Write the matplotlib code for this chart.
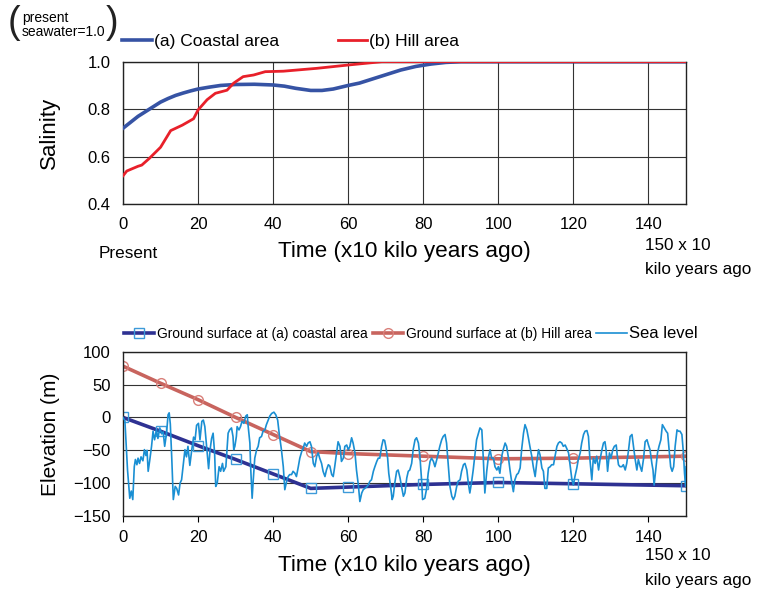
import numpy as np
import matplotlib
matplotlib.use('Agg')
import matplotlib.pyplot as plt

# Salinity (present seawater = 1.0)
sal_coast_t = [0, 2, 4, 6, 8, 10, 12, 14, 16, 18, 20, 23, 26, 30, 35, 40, 43, 46, 50, 53,
               56, 60, 63, 66, 70, 74, 78, 82, 86, 90, 150]
sal_coast = [0.72, 0.745, 0.77, 0.79, 0.81, 0.83, 0.845, 0.858, 0.868, 0.877, 0.885, 0.893,
             0.9, 0.904, 0.905, 0.902, 0.897, 0.888, 0.879, 0.879, 0.885, 0.9, 0.91, 0.925,
             0.945, 0.965, 0.98, 0.99, 0.997, 1.0, 1.0]
sal_hill_t = [0, 1, 4, 5, 7, 10, 12.7, 15.8, 18.8, 20, 22.4, 24.6, 27.7, 29.5, 32, 34.8,
              37.9, 42.7, 51.6, 60, 69, 150]
sal_hill = [0.52, 0.54, 0.56, 0.565, 0.593, 0.64, 0.71, 0.733, 0.76, 0.797, 0.84, 0.867,
            0.88, 0.91, 0.937, 0.944, 0.958, 0.96, 0.972, 0.986, 1.0, 1.0]

# Ground surface elevation (m)
gs_t = [0, 10, 20, 30, 40, 50, 60, 80, 100, 120, 150]
gs_coast = [0, -21, -43, -64, -86, -108, -106, -102, -99, -101, -104]
gs_hill = [78, 52, 27, 0, -26, -52, -55, -59, -63, -62, -59]

# Sea level (m)
sea_t = [0, 0.5, 1.2, 1.8, 2.2, 2.6, 3.0, 3.3, 3.7, 4.0, 4.4, 4.8, 5.3, 5.7, 6.1, 6.4, 6.7,
         7.1, 7.6, 8.0, 8.4, 8.9, 9.3, 9.8, 10.3, 10.7, 11.1, 11.6, 12.0, 12.3, 12.6, 13.0,
         13.4, 13.9, 14.3, 14.8, 15.2, 15.6, 16.1, 16.5, 16.9, 17.3, 17.8, 18.3, 18.8, 19.2,
         19.6, 20.1, 20.5, 21.0, 21.4, 21.8, 22.3, 22.8, 23.2, 23.6, 24.0, 24.4, 24.7, 25.1,
         25.6, 26.0, 26.5, 26.8, 27.4, 27.7, 28.0, 28.4, 28.9, 29.3, 29.5, 29.8, 30.2, 30.4,
         30.9, 31.3, 31.7, 32.2, 32.7, 33.1, 33.3, 33.8, 34.0, 34.4, 34.7, 35.1, 35.6, 36.0,
         36.4, 36.9, 37.3, 37.8, 38.2, 38.7, 39.1, 39.6, 40.2, 40.7, 41.2, 41.6, 42.2, 42.7,
         43.1, 43.6, 44.0, 44.4, 44.9, 45.3, 45.8, 46.2, 46.7, 47.1, 47.6, 48.0, 48.4, 48.9,
         49.3, 49.8, 50.2, 50.7, 51.1, 51.6, 52.0, 52.4, 52.9, 53.3, 53.8, 54.2, 54.7, 55.1,
         55.6, 56.0, 56.4, 56.9, 57.3, 57.8, 58.2, 58.7, 59.1, 59.6, 60.0, 60.4, 60.9, 61.3,
         61.8, 62.2, 62.7, 63.1, 63.6, 64.0, 64.4, 64.9, 65.3, 65.8, 66.2, 66.7, 67.1, 67.6,
         68.0, 68.4, 68.9, 69.3, 69.7, 70.0, 70.5, 70.8, 71.4, 71.7, 72.0, 72.4, 72.9, 73.3,
         73.8, 74.2, 74.7, 75.1, 75.6, 76.0, 76.4, 76.9, 77.3, 77.8, 78.2, 78.7, 79.1, 79.6,
         79.8, 80.4, 80.9, 81.3, 81.8, 82.2, 82.7, 83.1, 83.6, 84.0, 84.4, 84.9, 85.3, 85.8,
         86.2, 86.7, 87.1, 87.6, 88.0, 88.4, 88.9, 89.3, 89.8, 90.2, 90.7, 91.1, 91.6, 92.0,
         92.4, 92.9, 93.3, 93.8, 94.2, 94.7, 95.1, 95.6, 96.0, 96.4, 96.9, 97.3, 97.8, 98.2,
         98.7, 99.1, 99.6, 100.0, 100.4, 100.9, 101.3, 101.8, 102.2, 102.7, 103.1, 103.6,
         104.0, 104.4, 104.9, 105.3, 105.8, 106.2, 106.7, 107.1, 107.6, 108.0, 108.4, 108.9,
         109.3, 109.8, 110.2, 110.7, 111.1, 111.6, 112.0, 112.4, 112.9, 113.3, 113.8, 114.2,
         114.7, 115.1, 115.6, 116.0, 116.4, 116.9, 117.3, 117.8, 118.2, 118.7, 119.1, 119.6,
         120.0, 120.4, 120.9, 121.3, 121.8, 122.2, 122.7, 123.1, 123.6, 124.0, 124.4, 124.9,
         125.3, 125.8, 126.2, 126.7, 127.1, 127.6, 128.0, 128.4, 128.7, 129.1, 129.6, 130.0,
         130.5, 130.9, 131.4, 131.7, 132.0, 132.4, 132.9, 133.3, 133.8, 134.2, 134.7, 135.1,
         135.6, 136.0, 136.4, 136.9, 137.3, 137.8, 138.2, 138.7, 139.1, 139.6, 140.0, 140.4,
         140.9, 141.2, 141.5, 142.0, 142.4, 142.8, 143.3, 143.7, 144.2, 144.7, 145.1, 145.5,
         145.9, 146.3, 146.7, 147.1, 147.6, 148.0, 148.4, 148.9, 149.3, 149.6, 149.9, 150.0]
sea_lv = [0, -5, -80, -123, -112, -125, -75, -64, -72, -62, -70, -60, -66, -49, -58, -50, -82,
          -66, -44, -21, -34, -19, -32, -16, -25, -22, -44, -24, 4, 7, -10, -64,
          -125, -105, -108, -118, -100, -95, -70, -49, -60, -44, -73, -50, -30, -34,
          -12, -9, -34, -6, -4, -14, -46, -78, -49, -32, -24, -54, -105, -100,
          -75, -82, -70, -82, -75, -49, -24, -19, -16, -29, -49, -44, -29, -14,
          -19, -14, -6, -9, 2, 4, -11, -39, -75, -123, -95, -62, -49, -44,
          -31, -29, -21, -19, -11, -4, 2, 6, 8, 4, -4, -24, -49, -75,
          -110, -97, -90, -87, -87, -82, -85, -90, -75, -62, -52, -47, -39, -44,
          -39, -37, -44, -70, -75, -59, -54, -62, -70, -82, -90, -80, -72, -74,
          -87, -90, -75, -54, -37, -44, -67, -62, -44, -42, -49, -45, -31, -39,
          -54, -80, -103, -128, -115, -110, -108, -106, -103, -97, -95, -82, -75, -67,
          -62, -62, -44, -34, -35, -44, -62, -85, -110, -125, -120, -100, -82, -80,
          -92, -105, -120, -115, -92, -82, -80, -70, -49, -34, -31, -39, -59, -100,
          -125, -123, -108, -85, -67, -62, -67, -75, -64, -54, -44, -34, -29, -26,
          -39, -75, -105, -120, -125, -120, -105, -97, -95, -82, -72, -70, -80, -100,
          -115, -97, -80, -54, -34, -24, -16, -19, -64, -115, -82, -62, -49, -62,
          -62, -75, -80, -75, -85, -59, -49, -39, -44, -62, -80, -100,
          -113, -95, -87, -85, -77, -49, -24, -11, -19, -31, -44, -59,
          -75, -90, -70, -49, -57, -77, -82, -108, -108, -77, -75, -72,
          -72, -59, -44, -39, -37, -39, -44, -42, -47, -54, -72, -95,
          -103, -90, -77, -64, -54, -39, -26, -21, -20, -29, -64, -95,
          -62, -70, -59, -80, -64, -49, -39, -37, -49, -82, -54, -62,
          -49, -44, -42, -59, -72, -75, -75, -72, -80, -70, -49, -29,
          -26, -44, -62, -80, -64, -75, -82, -62, -37, -34, -42, -49,
          -70, -80, -103, -75, -54, -44, -34, -11, -16, -21, -24, -49,
          -75, -82, -75, -44, -19, -21, -21, -26, -54, -85, -105, -75]

x_ticks = [0, 20, 40, 60, 80, 100, 120, 140]

plt.rcParams['font.family'] = 'Liberation Sans'

fig = plt.figure(figsize=(7.66, 5.92), dpi=100)

# ---------- top: salinity ----------
ax1 = fig.add_axes([0.1606, 0.6549, 0.735, 0.2409])
ax1.plot(sal_coast_t, sal_coast, color='#3653A4', lw=2.6, zorder=3, label='(a) Coastal area')
ax1.plot(sal_hill_t, sal_hill, color='#E8202A', lw=2.0, zorder=3, label='(b) Hill area')
ax1.set_xlim(0, 150)
ax1.set_ylim(0.4, 1.0)
ax1.set_yticks([0.4, 0.6, 0.8, 1.0])
ax1.set_yticklabels(['0.4', '0.6', '0.8', '1.0'])
ax1.set_xticks(x_ticks)
ax1.grid(True, color='#333333', lw=0.8)
ax1.tick_params(length=0, labelsize=12, pad=9)
for s in ax1.spines.values():
    s.set_color('#222222')
    s.set_linewidth(1.0)
ax1.set_ylabel('Salinity', fontsize=16)
ax1.yaxis.set_label_coords(-0.112, 0.5)
ax1.legend(loc='lower left', bbox_to_anchor=(122 / 766, 1 - 49 / 592), bbox_transform=fig.transFigure,
           ncol=2, frameon=False, fontsize=12.5, handlelength=1.7, handletextpad=0.12,
           columnspacing=3.4, borderaxespad=0, borderpad=0)

fig.text(22 / 766, 1 - 25 / 592, 'present\nseawater=1.0', fontsize=10, va='center', ha='left',
         linespacing=0.95)
fig.text(8 / 766, 1 - 23 / 592, '(', fontsize=27, va='center', ha='left', color='#222222')
fig.text(106 / 766, 1 - 23 / 592, ')', fontsize=27, va='center', ha='left', color='#222222')

fig.text(99 / 766, 1 - 253 / 592, 'Present', fontsize=12.3, va='center', ha='left')
fig.text(404 / 766, 1 - 252 / 592, 'Time (x10 kilo years ago)', fontsize=16.2, va='center',
         ha='center')
fig.text(645 / 766, 1 - 258 / 592, '150 x 10\nkilo years ago', fontsize=12.3, va='center',
         ha='left', linespacing=1.75)

# ---------- bottom: elevation ----------
ax2 = fig.add_axes([0.1606, 0.1284, 0.735, 0.2775])
ax2.plot(gs_t, gs_coast, color='#2E3192', lw=2.6, marker='s', ms=7, mfc='none',
         mec='#3D9AD9', mew=1.0, zorder=2, label='Ground surface at (a) coastal area')
ax2.plot(gs_t, gs_hill, color='#C8645E', lw=2.6, marker='o', ms=7, mfc='none',
         mec='#D9807A', mew=1.0, zorder=2, label='Ground surface at (b) Hill area')
ax2.plot(sea_t, sea_lv, color='#1A8FD3', lw=1.2, zorder=3, label='Sea level')
ax2.set_xlim(0, 150)
ax2.set_ylim(-150, 100)
ax2.set_yticks([-150, -100, -50, 0, 50, 100])
ax2.set_xticks(x_ticks)
ax2.yaxis.grid(True, color='#333333', lw=0.8)
ax2.tick_params(axis='y', length=0, labelsize=12, pad=9)
ax2.tick_params(axis='x', length=4, direction='out', labelsize=12, pad=6)
for s in ax2.spines.values():
    s.set_color('#222222')
    s.set_linewidth(1.0)
ax2.set_ylabel('Elevation (m)', fontsize=15)
ax2.yaxis.set_label_coords(-0.112, 0.5)
leg = ax2.legend(loc='lower left', bbox_to_anchor=(124 / 766, 1 - 341 / 592),
                 bbox_transform=fig.transFigure, ncol=3, frameon=False, fontsize=9.9,
                 handlelength=2.2, handletextpad=0.2, columnspacing=0.35,
                 borderaxespad=0, borderpad=0)
leg.get_texts()[2].set_fontsize(12)

fig.text(404 / 766, 1 - 565 / 592, 'Time (x10 kilo years ago)', fontsize=16.2, va='center',
         ha='center')
fig.text(645 / 766, 1 - 568 / 592, '150 x 10\nkilo years ago', fontsize=12.3, va='center',
         ha='left', linespacing=1.75)

fig.savefig('out.png', dpi=100)
